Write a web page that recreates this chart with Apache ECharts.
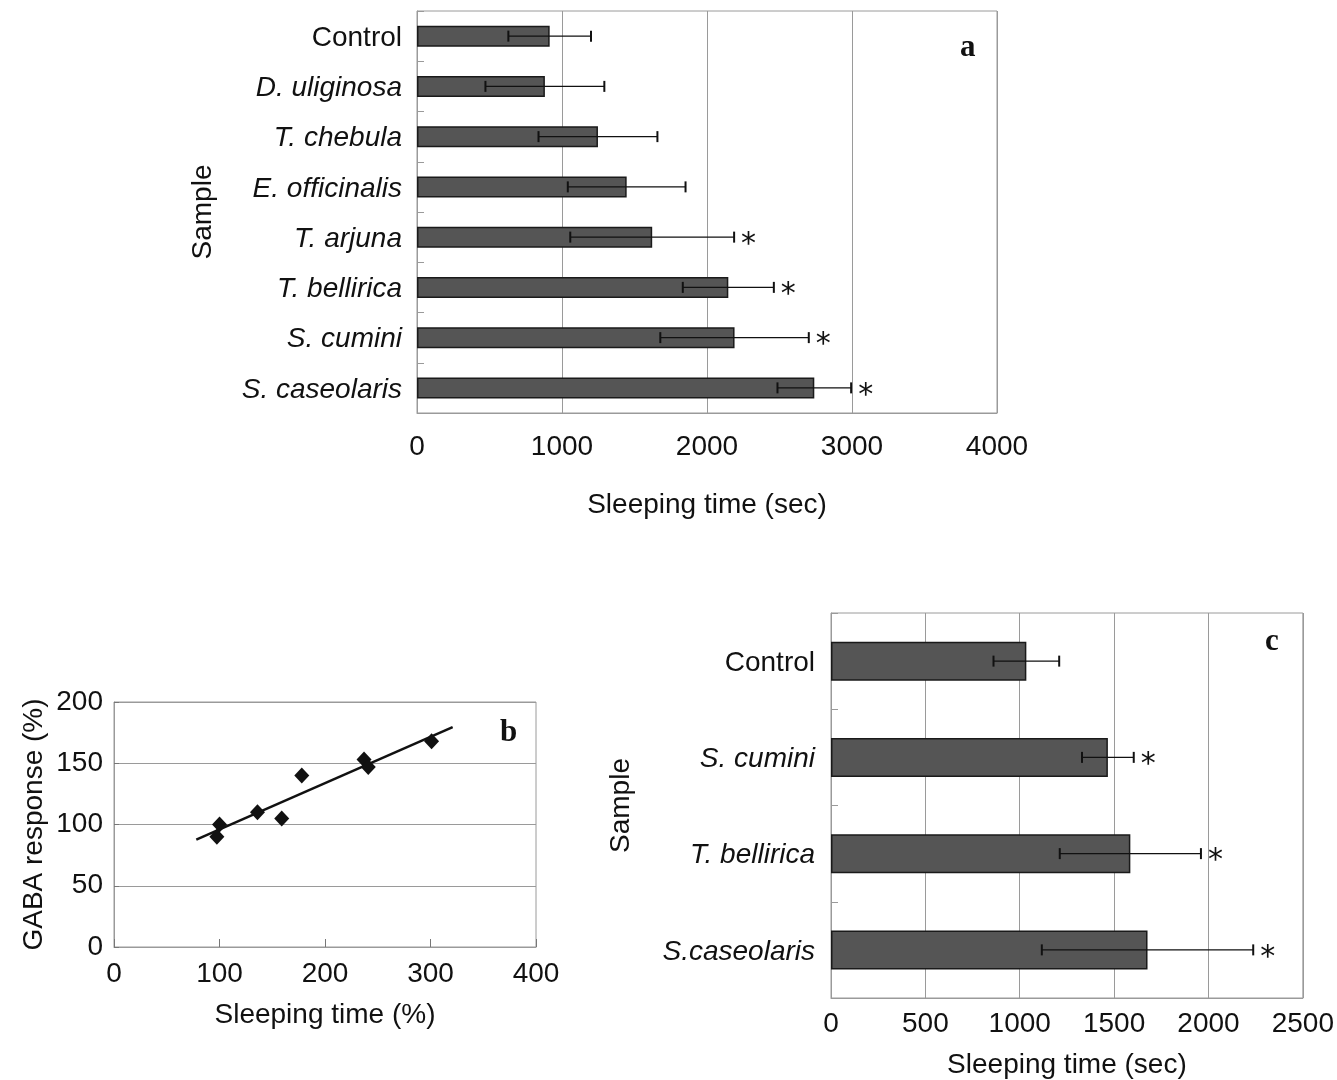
<!DOCTYPE html>
<html>
<head>
<meta charset="utf-8">
<script src="https://cdn.jsdelivr.net/npm/echarts@6/dist/echarts.min.js"></script>
<style>
html,body{margin:0;padding:0;background:#fff;}
#chart{width:1337px;height:1080px;}
</style>
</head>
<body>
<div id="chart"></div>
<script>
// ---------- Panel a ----------
const aCategories = ['Control', 'D. uliginosa', 'T. chebula', 'E. officinalis', 'T. arjuna', 'T. bellirica', 'S. cumini', 'S. caseolaris'];
const aMeans = [915, 882, 1248, 1446, 1622, 2147, 2190, 2740];
const aErrors = [285, 410, 410, 406, 565, 314, 512, 254];
const aSignificant = [0, 0, 0, 0, 1, 1, 1, 1];
const aItalic = [0, 1, 1, 1, 1, 1, 1, 1];
const aTicks = [0, 1000, 2000, 3000, 4000];

// ---------- Panel b ----------
const bSleeping = [97.5, 100, 136, 159, 178, 237, 241, 301];
const bGaba = [90, 100, 110, 105, 140, 153, 147, 168];
const bTrendRange = [78, 321];
const bXTicks = [0, 100, 200, 300, 400];
const bYTicks = [0, 50, 100, 150, 200];

// ---------- Panel c ----------
const cCategories = ['Control', 'S. cumini', 'T. bellirica', 'S.caseolaris'];
const cMeans = [1035, 1467, 1586, 1677];
const cErrors = [174, 137, 374, 560];
const cSignificant = [0, 1, 1, 1];
const cItalic = [0, 1, 1, 1];
const cTicks = [0, 500, 1000, 1500, 2000, 2500];

const FONT = '"Liberation Sans", Arial, sans-serif';
const SERIF = '"Liberation Serif", "Times New Roman", serif';
const GRIDC = '#9a9a9a';
const FS = 28;

// linear regression for trend line (from the points)
function regression(xs, ys) {
  const n = xs.length;
  const mx = xs.reduce((a, b) => a + b, 0) / n;
  const my = ys.reduce((a, b) => a + b, 0) / n;
  let sxy = 0, sxx = 0;
  for (let i = 0; i < n; i++) { sxy += (xs[i] - mx) * (ys[i] - my); sxx += (xs[i] - mx) ** 2; }
  const slope = sxy / sxx;
  return { slope, intercept: my - slope * mx };
}
const reg = regression(bSleeping, bGaba);
const trendData = bTrendRange.map(x => [x, reg.slope * x + reg.intercept]);

function errData(means, errs, sig) {
  return means.map((m, i) => [i, m - errs[i], m + errs[i], sig[i]]);
}

function renderErr(params, api) {
  const cat = api.value(0);
  const lo = api.coord([api.value(1), cat]);
  const hi = api.coord([api.value(2), cat]);
  const cap = 5.5;
  const children = [
    { type: 'line', shape: { x1: lo[0], y1: lo[1], x2: hi[0], y2: hi[1] }, style: { stroke: '#111', lineWidth: 1.3 } },
    { type: 'line', shape: { x1: lo[0], y1: lo[1] - cap, x2: lo[0], y2: lo[1] + cap }, style: { stroke: '#111', lineWidth: 2 } },
    { type: 'line', shape: { x1: hi[0], y1: hi[1] - cap, x2: hi[0], y2: hi[1] + cap }, style: { stroke: '#111', lineWidth: 2 } }
  ];
  if (api.value(3)) {
    children.push({ type: 'text', style: { text: '*', x: hi[0] + 7, y: hi[1] + 8, font: '30px "DejaVu Sans", sans-serif', fill: '#111', textAlign: 'left', textVerticalAlign: 'middle' } });
  }
  return { type: 'group', children };
}

function catLabel(italicArr, cats) {
  return function (v) {
    const i = cats.indexOf(v);
    return italicArr[i] ? '{i|' + v + '}' : '{n|' + v + '}';
  };
}
const plainNum = v => String(v);
const richLab = {
  n: { fontSize: FS, fontFamily: FONT, color: '#111', padding: [4, 0, 0, 0] },
  i: { fontSize: FS, fontFamily: FONT, fontStyle: 'italic', color: '#111', padding: [4, 0, 0, 0] }
};

const chart = echarts.init(document.getElementById('chart'), null, { renderer: 'canvas' });
const option = {
  backgroundColor: '#fff',
  animation: false,
  textStyle: { fontFamily: FONT, color: '#111' },
  grid: [
    { left: 417, top: 11, width: 580, height: 402, show: true, borderColor: GRIDC, borderWidth: 1, containLabel: false },
    { left: 114, top: 702, width: 422, height: 245, show: true, borderColor: GRIDC, borderWidth: 1, containLabel: false },
    { left: 831, top: 613, width: 473, height: 389, show: true, borderColor: GRIDC, borderWidth: 1, containLabel: false }
  ],
  xAxis: [
    {
      gridIndex: 0, type: 'value', min: aTicks[0], max: aTicks[aTicks.length - 1], interval: aTicks[1] - aTicks[0],
      name: 'Sleeping time (sec)', nameLocation: 'middle', nameGap: 78,
      nameTextStyle: { fontSize: FS, fontFamily: FONT, color: '#111' },
      axisLine: { show: true, lineStyle: { color: GRIDC } }, axisTick: { show: false },
      axisLabel: { fontSize: FS, fontFamily: FONT, color: '#111', margin: 20, formatter: plainNum },
      splitLine: { show: true, lineStyle: { color: GRIDC, width: 1 } }
    },
    {
      gridIndex: 1, type: 'value', min: bXTicks[0], max: bXTicks[bXTicks.length - 1], interval: bXTicks[1] - bXTicks[0],
      name: 'Sleeping time (%)', nameLocation: 'middle', nameGap: 54,
      nameTextStyle: { fontSize: FS, fontFamily: FONT, color: '#111' },
      axisLine: { show: true, lineStyle: { color: GRIDC } },
      axisTick: { show: true, inside: true, length: 8, lineStyle: { color: '#777' } },
      axisLabel: { fontSize: FS, fontFamily: FONT, color: '#111', margin: 13, formatter: plainNum },
      splitLine: { show: false }
    },
    {
      gridIndex: 2, type: 'value', min: cTicks[0], max: cTicks[cTicks.length - 1], interval: cTicks[1] - cTicks[0],
      name: 'Sleeping time (sec)', nameLocation: 'middle', nameGap: 53,
      nameTextStyle: { fontSize: FS, fontFamily: FONT, color: '#111' },
      axisLine: { show: true, lineStyle: { color: GRIDC } }, axisTick: { show: false },
      axisLabel: { fontSize: FS, fontFamily: FONT, color: '#111', margin: 12, formatter: plainNum },
      splitLine: { show: true, lineStyle: { color: GRIDC, width: 1 } }
    }
  ],
  yAxis: [
    {
      gridIndex: 0, type: 'category', data: aCategories, inverse: true,
      name: 'Sample', nameLocation: 'middle', nameGap: 200,
      nameTextStyle: { fontSize: FS, fontFamily: FONT, color: '#111' },
      axisLine: { show: true, lineStyle: { color: GRIDC } },
      axisTick: { show: true, inside: true, length: 7, lineStyle: { color: GRIDC } },
      axisLabel: { margin: 15, formatter: catLabel(aItalic, aCategories), rich: richLab },
      splitLine: { show: false }
    },
    {
      gridIndex: 1, type: 'value', min: bYTicks[0], max: bYTicks[bYTicks.length - 1], interval: bYTicks[1] - bYTicks[0],
      name: 'GABA response (%)', nameLocation: 'middle', nameGap: 66,
      nameTextStyle: { fontSize: FS, fontFamily: FONT, color: '#111' },
      axisLine: { show: true, lineStyle: { color: GRIDC } },
      axisTick: { show: true, inside: true, length: 5, lineStyle: { color: '#777' } },
      axisLabel: { fontSize: FS, fontFamily: FONT, color: '#111', margin: 11, formatter: plainNum },
      splitLine: { show: true, lineStyle: { color: GRIDC, width: 1 } }
    },
    {
      gridIndex: 2, type: 'category', data: cCategories, inverse: true,
      name: 'Sample', nameLocation: 'middle', nameGap: 196,
      nameTextStyle: { fontSize: FS, fontFamily: FONT, color: '#111' },
      axisLine: { show: true, lineStyle: { color: GRIDC } },
      axisTick: { show: true, inside: true, length: 7, lineStyle: { color: GRIDC } },
      axisLabel: { margin: 16, formatter: catLabel(cItalic, cCategories), rich: richLab },
      splitLine: { show: false }
    }
  ],
  series: [
    {
      type: 'bar', xAxisIndex: 0, yAxisIndex: 0, data: aMeans, barWidth: 21,
      itemStyle: { color: '#555555', borderColor: '#1a1a1a', borderWidth: 1.5 }
    },
    {
      type: 'custom', xAxisIndex: 0, yAxisIndex: 0, data: errData(aMeans, aErrors, aSignificant),
      encode: { x: [1, 2], y: 0 }, renderItem: renderErr, z: 5
    },
    {
      type: 'scatter', xAxisIndex: 1, yAxisIndex: 1,
      data: bSleeping.map((x, i) => [x, bGaba[i]]),
      symbol: 'diamond', symbolSize: [15, 16], itemStyle: { color: '#111', opacity: 1 }, z: 4
    },
    {
      type: 'line', xAxisIndex: 1, yAxisIndex: 1, data: trendData, symbol: 'none',
      lineStyle: { color: '#111', width: 2.5 }, z: 3
    },
    {
      type: 'bar', xAxisIndex: 2, yAxisIndex: 2, data: cMeans, barWidth: 39,
      itemStyle: { color: '#555555', borderColor: '#1a1a1a', borderWidth: 1.5 }
    },
    {
      type: 'custom', xAxisIndex: 2, yAxisIndex: 2, data: errData(cMeans, cErrors, cSignificant),
      encode: { x: [1, 2], y: 0 }, renderItem: renderErr, z: 5
    }
  ],
  graphic: [
    { type: 'text', left: 960, top: 32, style: { text: 'a', font: 'bold 31px ' + SERIF, fill: '#111' } },
    { type: 'text', left: 500, top: 717, style: { text: 'b', font: 'bold 31px ' + SERIF, fill: '#111' } },
    { type: 'text', left: 1265, top: 626, style: { text: 'c', font: 'bold 31px ' + SERIF, fill: '#111' } }
  ]
};
chart.setOption(option);
</script>
</body>
</html>
